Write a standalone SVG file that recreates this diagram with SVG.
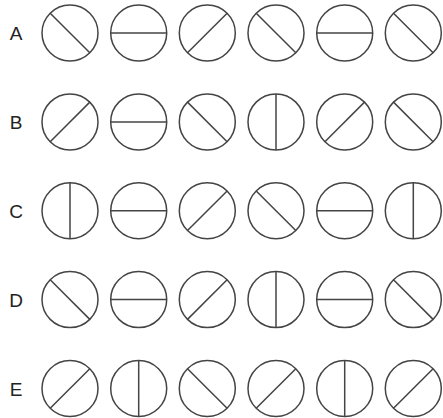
<svg xmlns="http://www.w3.org/2000/svg" xmlns:xlink="http://www.w3.org/1999/xlink" width="443" height="418" viewBox="0 0 443 418">
<style>
.c{fill:none;stroke:#444;stroke-width:1.5}
.l{stroke:#444;stroke-width:1.5}
.t{font-family:"Liberation Sans",Arial,sans-serif;font-size:19px;fill:#222;text-anchor:middle}
</style>
<defs>
<circle id="o" class="c" r="28"/>
<line id="bs" class="l" x1="-19.8" y1="-19.8" x2="19.8" y2="19.8"/>
<line id="fs" class="l" x1="-19.8" y1="19.8" x2="19.8" y2="-19.8"/>
<line id="h" class="l" x1="-28" y1="0" x2="28" y2="0"/>
<line id="v" class="l" x1="0" y1="-28" x2="0" y2="28"/>
</defs>
<rect width="443" height="418" fill="#fff"/>
<g id="labels">
<text class="t" x="16" y="40">A</text>
<text class="t" x="16" y="129">B</text>
<text class="t" x="16" y="218">C</text>
<text class="t" x="16" y="306.5">D</text>
<text class="t" x="16" y="395.5">E</text>
</g>
<g id="rowA">
<g id="A1" transform="translate(70,33)"><use href="#o"/><use href="#bs"/></g>
<g id="A2" transform="translate(138.7,33)"><use href="#o"/><use href="#h"/></g>
<g id="A3" transform="translate(207.3,33)"><use href="#o"/><use href="#fs"/></g>
<g id="A4" transform="translate(276,33)"><use href="#o"/><use href="#bs"/></g>
<g id="A5" transform="translate(344.7,33)"><use href="#o"/><use href="#h"/></g>
<g id="A6" transform="translate(413.3,33)"><use href="#o"/><use href="#bs"/></g>
</g>
<g id="rowB">
<g id="B1" transform="translate(70,121.9)"><use href="#o"/><use href="#fs"/></g>
<g id="B2" transform="translate(138.7,121.9)"><use href="#o"/><use href="#h"/></g>
<g id="B3" transform="translate(207.3,121.9)"><use href="#o"/><use href="#bs"/></g>
<g id="B4" transform="translate(276,121.9)"><use href="#o"/><use href="#v"/></g>
<g id="B5" transform="translate(344.7,121.9)"><use href="#o"/><use href="#fs"/></g>
<g id="B6" transform="translate(413.3,121.9)"><use href="#o"/><use href="#bs"/></g>
</g>
<g id="rowC">
<g id="C1" transform="translate(70,210.75)"><use href="#o"/><use href="#v"/></g>
<g id="C2" transform="translate(138.7,210.75)"><use href="#o"/><use href="#h"/></g>
<g id="C3" transform="translate(207.3,210.75)"><use href="#o"/><use href="#fs"/></g>
<g id="C4" transform="translate(276,210.75)"><use href="#o"/><use href="#bs"/></g>
<g id="C5" transform="translate(344.7,210.75)"><use href="#o"/><use href="#h"/></g>
<g id="C6" transform="translate(413.3,210.75)"><use href="#o"/><use href="#v"/></g>
</g>
<g id="rowD">
<g id="D1" transform="translate(70,299.6)"><use href="#o"/><use href="#bs"/></g>
<g id="D2" transform="translate(138.7,299.6)"><use href="#o"/><use href="#h"/></g>
<g id="D3" transform="translate(207.3,299.6)"><use href="#o"/><use href="#fs"/></g>
<g id="D4" transform="translate(276,299.6)"><use href="#o"/><use href="#v"/></g>
<g id="D5" transform="translate(344.7,299.6)"><use href="#o"/><use href="#h"/></g>
<g id="D6" transform="translate(413.3,299.6)"><use href="#o"/><use href="#bs"/></g>
</g>
<g id="rowE">
<g id="E1" transform="translate(70,388.5)"><use href="#o"/><use href="#fs"/></g>
<g id="E2" transform="translate(138.7,388.5)"><use href="#o"/><use href="#v"/></g>
<g id="E3" transform="translate(207.3,388.5)"><use href="#o"/><use href="#bs"/></g>
<g id="E4" transform="translate(276,388.5)"><use href="#o"/><use href="#fs"/></g>
<g id="E5" transform="translate(344.7,388.5)"><use href="#o"/><use href="#v"/></g>
<g id="E6" transform="translate(413.3,388.5)"><use href="#o"/><use href="#fs"/></g>
</g>
<g id="connectors"/>
</svg>
